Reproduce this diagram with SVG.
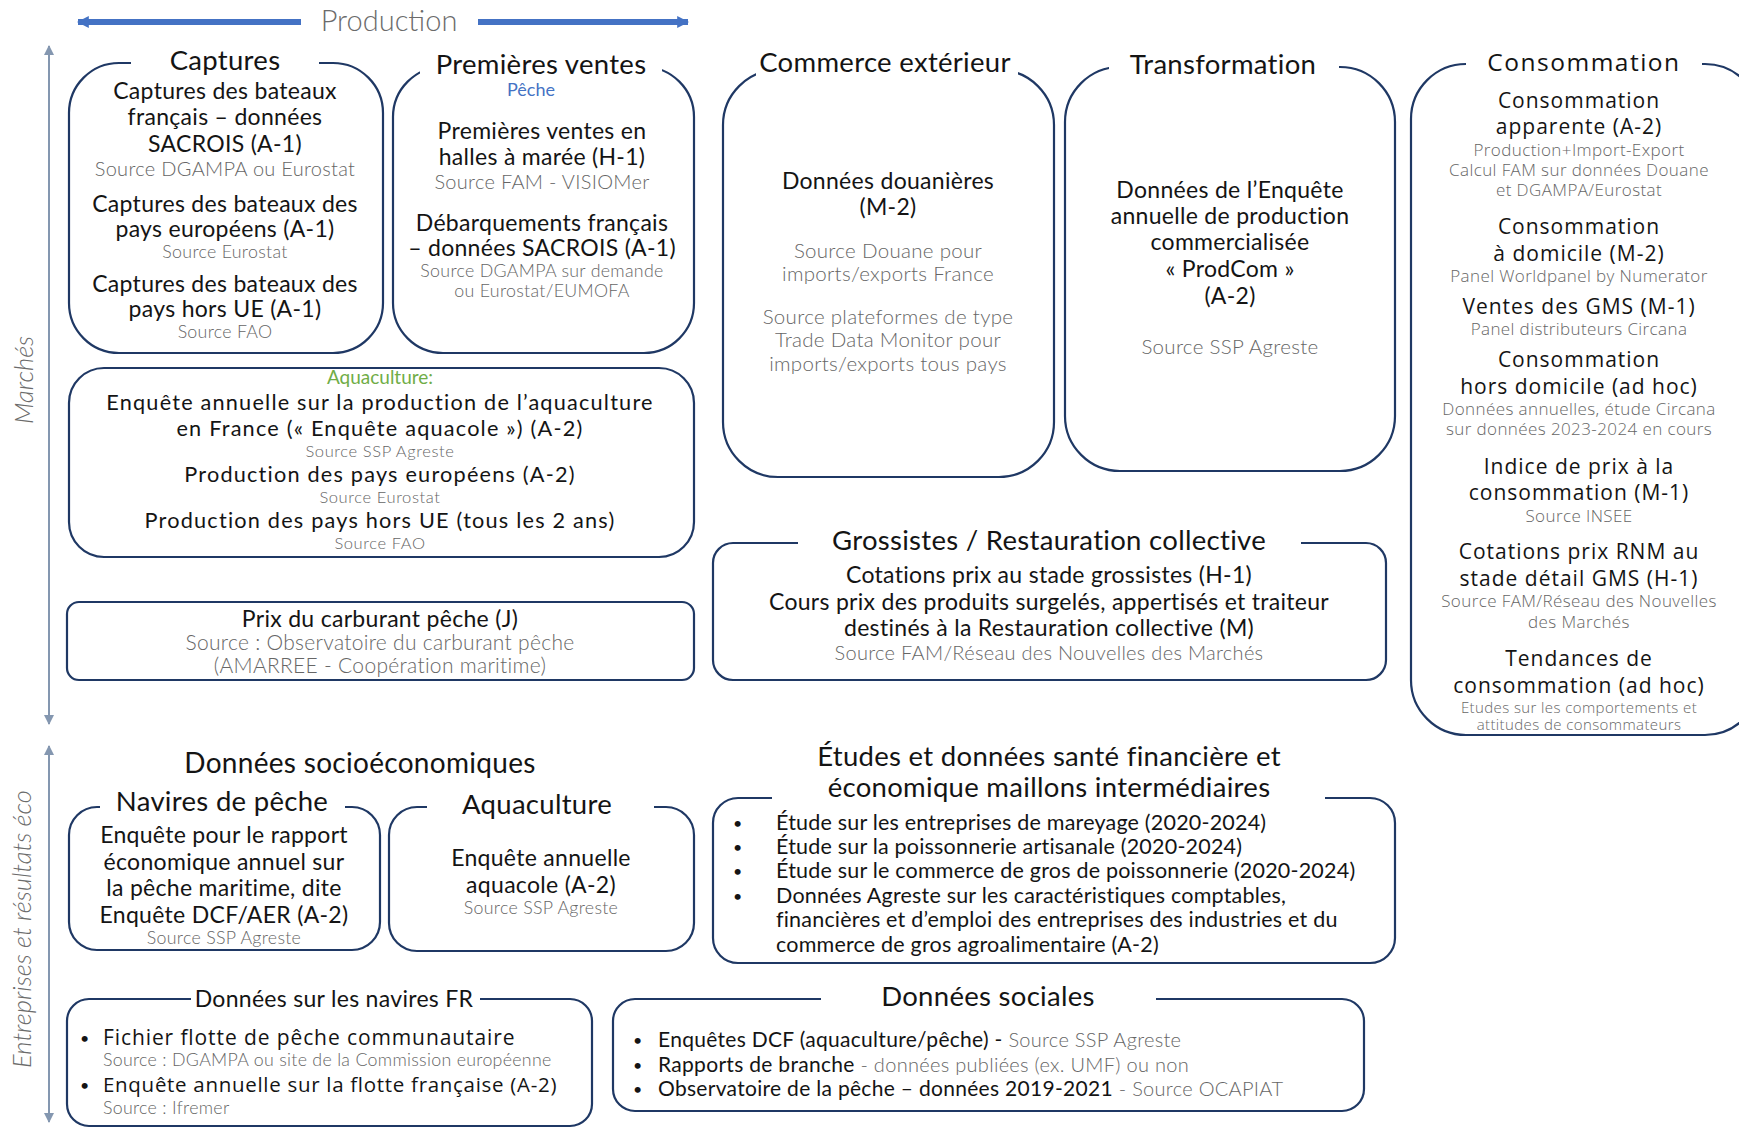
<svg xmlns="http://www.w3.org/2000/svg" width="1739" height="1128" viewBox="0 0 1739 1128">
<style>
.box{fill:none;stroke:#1F3864;stroke-width:2.2}
.gap{fill:#fff;stroke:none}
text{font-family:Lato,"Liberation Sans",sans-serif;fill:#141414}
.t{font-size:27.5px;letter-spacing:0.3px;text-anchor:middle}
.b{font-size:23px;letter-spacing:0.3px;text-anchor:middle}
.bq{font-size:21.7px;letter-spacing:1.2px}
.bl{font-size:21.5px;letter-spacing:0.2px}
.dot{font-size:16px}
.s{font-size:20px;letter-spacing:0.3px;fill:#666;font-weight:300;text-anchor:middle}
.s17{font-size:17.8px}
.sq{font-size:16.5px;letter-spacing:0.6px}
.g{font-family:"Open Sans","Noto Sans",sans-serif;font-size:21px;letter-spacing:1px;text-anchor:middle}
.gs{font-family:"Open Sans","Noto Sans",sans-serif;font-size:17px;letter-spacing:0.4px;fill:#666;font-weight:300;text-anchor:middle}
.ax{font-size:25.5px;fill:#6b6b6b;font-style:italic;font-weight:300;text-anchor:middle}
.axl{stroke:#8497B0;stroke-width:2}
.prod{stroke:#4472C4;stroke-width:6}
.gr{fill:#666;font-weight:300}
</style>
<defs>
<marker id="ah" viewBox="0 0 10 10" refX="9" refY="5" markerWidth="5" markerHeight="5" orient="auto-start-reverse"><path d="M0,0 L10,5 L0,10 Z" fill="#8497B0"/></marker>
<marker id="ph" viewBox="0 0 10 10" refX="9" refY="5" markerWidth="2" markerHeight="2.2" orient="auto-start-reverse"><path d="M0,0 L10,5 L0,10 Z" fill="#4472C4"/></marker>
</defs>

<g id="connectors">
<line class="prod" x1="78" y1="22" x2="301" y2="22" marker-start="url(#ph)"/>
<line class="prod" x1="478" y1="22" x2="688" y2="22" marker-end="url(#ph)"/>
<line class="axl" x1="49" y1="46" x2="49" y2="724" marker-start="url(#ah)" marker-end="url(#ah)"/>
<line class="axl" x1="49" y1="746" x2="49" y2="1122" marker-start="url(#ah)" marker-end="url(#ah)"/>
</g>

<g id="labels">
<text x="389" y="31" style="font-size:29px;fill:#6b6b6b;font-weight:300;text-anchor:middle">Production</text>
<text class="ax" transform="translate(33,380) rotate(-90)">Marchés</text>
<text class="ax" transform="translate(31,929) rotate(-90)">Entreprises et résultats éco</text>
<text x="360" y="773" style="font-size:28px;letter-spacing:0.3px;text-anchor:middle">Données socioéconomiques</text>
</g>

<g id="captures">
<rect class="box" x="69" y="63" width="314" height="290" rx="50"/>
<rect class="gap" x="131" y="55" width="188" height="16"/>
<text class="t" x="225" y="70">Captures</text>
<text class="b" x="225" y="99">Captures des bateaux</text>
<text class="b" x="225" y="125">français – données</text>
<text class="b" x="225" y="152">SACROIS (A-1)</text>
<text class="s" x="225" y="176">Source DGAMPA ou Eurostat</text>
<text class="b" x="225" y="212">Captures des bateaux des</text>
<text class="b" x="225" y="237">pays européens (A-1)</text>
<text class="s s17" x="225" y="258">Source Eurostat</text>
<text class="b" x="225" y="292">Captures des bateaux des</text>
<text class="b" x="225" y="317">pays hors UE (A-1)</text>
<text class="s s17" x="225" y="338">Source FAO</text>
</g>

<g id="premieres-ventes">
<rect class="box" x="393" y="67" width="301" height="286" rx="50"/>
<rect class="gap" x="420" y="58" width="242" height="16"/>
<text class="t" x="541" y="74">Premières ventes</text>
<text x="531" y="96" style="font-size:18px;fill:#4472C4;text-anchor:middle">Pêche</text>
<text class="b" x="542" y="139">Premières ventes en</text>
<text class="b" x="542" y="165">halles à marée (H-1)</text>
<text class="s" x="542" y="189">Source FAM - VISIOMer</text>
<text class="b" x="542" y="231">Débarquements français</text>
<text class="b" x="542" y="256">– données SACROIS (A-1)</text>
<text class="s s17" x="542" y="277">Source DGAMPA sur demande</text>
<text class="s s17" x="542" y="297">ou Eurostat/EUMOFA</text>
</g>

<g id="commerce-exterieur">
<rect class="box" x="723" y="70" width="331" height="407" rx="55"/>
<rect class="gap" x="756" y="58" width="262" height="24"/>
<text class="t" x="885" y="72">Commerce extérieur</text>
<text class="b" x="888" y="189">Données douanières</text>
<text class="b" x="888" y="215">(M-2)</text>
<text class="s" x="888" y="258" style="font-size:20.5px">Source Douane pour</text>
<text class="s" x="888" y="281" style="font-size:20.5px">imports/exports France</text>
<text class="s" x="888" y="324" style="font-size:20.5px">Source plateformes de type</text>
<text class="s" x="888" y="347" style="font-size:20.5px">Trade Data Monitor pour</text>
<text class="s" x="888" y="371" style="font-size:20.5px">imports/exports tous pays</text>
</g>

<g id="transformation">
<rect class="box" x="1065" y="67" width="330" height="404" rx="55"/>
<rect class="gap" x="1109" y="58" width="230" height="18"/>
<text class="t" x="1223" y="74">Transformation</text>
<text class="b" x="1230" y="198">Données de l’Enquête</text>
<text class="b" x="1230" y="224">annuelle de production</text>
<text class="b" x="1230" y="250">commercialisée</text>
<text class="b" x="1230" y="277">« ProdCom »</text>
<text class="b" x="1230" y="304">(A-2)</text>
<text class="s" x="1230" y="354" style="font-size:20.5px">Source SSP Agreste</text>
</g>

<g id="consommation">
<rect class="box" x="1411" y="64" width="349" height="671" rx="55"/>
<rect class="gap" x="1466" y="55" width="236" height="18"/>
<text class="g" x="1584" y="71" style="font-size:24.5px;letter-spacing:1.5px">Consommation</text>
<text class="g" x="1579" y="108">Consommation</text>
<text class="g" x="1579" y="134">apparente (A-2)</text>
<text class="gs" x="1579" y="156">Production+Import-Export</text>
<text class="gs" x="1579" y="176">Calcul FAM sur données Douane</text>
<text class="gs" x="1579" y="196">et DGAMPA/Eurostat</text>
<text class="g" x="1579" y="234">Consommation</text>
<text class="g" x="1579" y="261">à domicile (M-2)</text>
<text class="gs" x="1579" y="282">Panel Worldpanel by Numerator</text>
<text class="g" x="1579" y="314">Ventes des GMS (M-1)</text>
<text class="gs" x="1579" y="335">Panel distributeurs Circana</text>
<text class="g" x="1579" y="367">Consommation</text>
<text class="g" x="1579" y="394">hors domicile (ad hoc)</text>
<text class="gs" x="1579" y="415">Données annuelles, étude Circana</text>
<text class="gs" x="1579" y="435">sur données 2023-2024 en cours</text>
<text class="g" x="1579" y="474">Indice de prix à la</text>
<text class="g" x="1579" y="500">consommation (M-1)</text>
<text class="gs" x="1579" y="522">Source INSEE</text>
<text class="g" x="1579" y="559">Cotations prix RNM au</text>
<text class="g" x="1579" y="586">stade détail GMS (H-1)</text>
<text class="gs" x="1579" y="607">Source FAM/Réseau des Nouvelles</text>
<text class="gs" x="1579" y="628">des Marchés</text>
<text class="g" x="1579" y="666">Tendances de</text>
<text class="g" x="1579" y="693">consommation (ad hoc)</text>
<text class="gs" x="1579" y="713" style="font-size:15px">Etudes sur les comportements et</text>
<text class="gs" x="1579" y="730" style="font-size:15px">attitudes de consommateurs</text>
</g>

<g id="aquaculture-production">
<rect class="box" x="69" y="368" width="625" height="189" rx="35"/>
<text x="380" y="384" style="font-size:19px;fill:#70AD47;text-anchor:middle">Aquaculture:</text>
<text class="b bq" x="380" y="410">Enquête annuelle sur la production de l’aquaculture</text>
<text class="b bq" x="380" y="436">en France (« Enquête aquacole ») (A-2)</text>
<text class="s sq" x="380" y="457">Source SSP Agreste</text>
<text class="b bq" x="380" y="482">Production des pays européens (A-2)</text>
<text class="s sq" x="380" y="503">Source Eurostat</text>
<text class="b bq" x="380" y="528">Production des pays hors UE (tous les 2 ans)</text>
<text class="s sq" x="380" y="549">Source FAO</text>
</g>

<g id="carburant">
<rect class="box" x="67" y="602" width="627" height="78" rx="12"/>
<text class="b" x="380" y="627">Prix du carburant pêche (J)</text>
<text class="s" x="380" y="650" style="font-size:21px">Source : Observatoire du carburant pêche</text>
<text class="s" x="380" y="673" style="font-size:21px">(AMARREE - Coopération maritime)</text>
</g>

<g id="grossistes">
<rect class="box" x="713" y="543" width="673" height="137" rx="20"/>
<rect class="gap" x="798" y="534" width="503" height="18"/>
<text class="t" x="1049" y="550">Grossistes / Restauration collective</text>
<text class="b" x="1049" y="583">Cotations prix au stade grossistes (H-1)</text>
<text class="b" x="1049" y="610">Cours prix des produits surgelés, appertisés et traiteur</text>
<text class="b" x="1049" y="636">destinés à la Restauration collective (M)</text>
<text class="s" x="1049" y="660">Source FAM/Réseau des Nouvelles des Marchés</text>
</g>

<g id="navires-peche">
<rect class="box" x="69" y="807" width="311" height="143" rx="28"/>
<rect class="gap" x="100" y="798" width="245" height="18"/>
<text class="t" x="222" y="811">Navires de pêche</text>
<text class="b" x="224" y="843">Enquête pour le rapport</text>
<text class="b" x="224" y="870">économique annuel sur</text>
<text class="b" x="224" y="896">la pêche maritime, dite</text>
<text class="b" x="224" y="923">Enquête DCF/AER (A-2)</text>
<text class="s s17" x="224" y="944">Source SSP Agreste</text>
</g>

<g id="aquaculture-socio">
<rect class="box" x="389" y="807" width="305" height="144" rx="28"/>
<rect class="gap" x="427" y="798" width="227" height="18"/>
<text class="t" x="537" y="814">Aquaculture</text>
<text class="b" x="541" y="866">Enquête annuelle</text>
<text class="b" x="541" y="893">aquacole (A-2)</text>
<text class="s s17" x="541" y="914">Source SSP Agreste</text>
</g>

<g id="etudes">
<rect class="box" x="713" y="798" width="682" height="165" rx="25"/>
<rect class="gap" x="772" y="789" width="553" height="18"/>
<text class="t" x="1049" y="766">Études et données santé financière et</text>
<text class="t" x="1049" y="797">économique maillons intermédiaires</text>
<text class="dot" x="733" y="829">•</text><text class="bl" x="776" y="830">Étude sur les entreprises de mareyage (2020-2024)</text>
<text class="dot" x="733" y="853">•</text><text class="bl" x="776" y="854">Étude sur la poissonnerie artisanale (2020-2024)</text>
<text class="dot" x="733" y="877">•</text><text class="bl" x="776" y="878">Étude sur le commerce de gros de poissonnerie (2020-2024)</text>
<text class="dot" x="733" y="902">•</text><text class="bl" x="776" y="903">Données Agreste sur les caractéristiques comptables,</text>
<text class="bl" x="776" y="927">financières et d’emploi des entreprises des industries et du</text>
<text class="bl" x="776" y="952">commerce de gros agroalimentaire (A-2)</text>
</g>

<g id="navires-fr">
<rect class="box" x="67" y="999" width="525" height="127" rx="22"/>
<rect class="gap" x="191" y="990" width="289" height="18"/>
<text x="334" y="1007" style="font-size:23px;letter-spacing:0.3px;text-anchor:middle">Données sur les navires FR</text>
<text class="dot" x="80" y="1044">•</text>
<text class="g" x="103" y="1045" style="font-size:21px;text-anchor:start;letter-spacing:0.9px">Fichier flotte de pêche communautaire</text>
<text class="s s17" x="103" y="1066" style="text-anchor:start">Source : DGAMPA ou site de la Commission européenne</text>
<text class="dot" x="80" y="1091">•</text>
<text class="g" x="103" y="1092" style="font-size:20.5px;text-anchor:start;letter-spacing:0.7px">Enquête annuelle sur la flotte française (A-2)</text>
<text class="s s17" x="103" y="1114" style="text-anchor:start">Source : Ifremer</text>
</g>

<g id="donnees-sociales">
<rect class="box" x="613" y="999" width="751" height="112" rx="22"/>
<rect class="gap" x="821" y="990" width="335" height="18"/>
<text class="t" x="988" y="1006">Données sociales</text>
<text class="dot" x="633" y="1046">•</text>
<text x="658" y="1047" style="font-size:21px;letter-spacing:0.3px">Enquêtes DCF (aquaculture/pêche) - <tspan class="gr" style="font-size:20px">Source SSP Agreste</tspan></text>
<text class="dot" x="633" y="1071">•</text>
<text x="658" y="1072" style="font-size:21px;letter-spacing:0.3px">Rapports de branche<tspan class="gr" style="font-size:20px"> - données publiées (ex. UMF) ou non</tspan></text>
<text class="dot" x="633" y="1095">•</text>
<text x="658" y="1096" style="font-size:21px;letter-spacing:0.3px">Observatoire de la pêche – données 2019-2021<tspan class="gr" style="font-size:20px"> - Source OCAPIAT</tspan></text>
</g>
</svg>
